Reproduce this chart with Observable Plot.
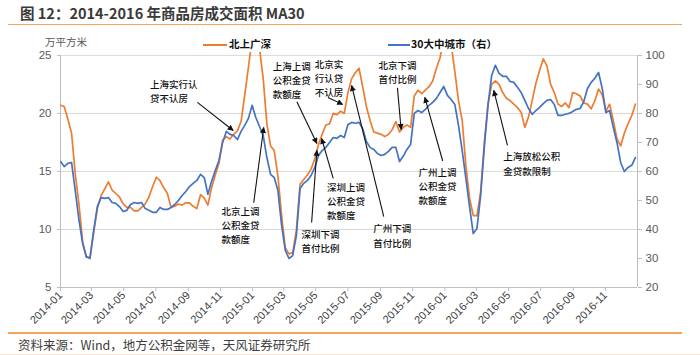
<!DOCTYPE html>
<html><head><meta charset="utf-8">
<script src="https://cdn.jsdelivr.net/npm/d3@7"></script>
<script src="https://cdn.jsdelivr.net/npm/@observablehq/plot@0.6"></script>
<style>
body{margin:0;width:700px;height:355px;position:relative;overflow:hidden;background:#fff;font-family:"Noto Sans CJK SC","Liberation Sans",sans-serif;}
.abs{position:absolute;white-space:nowrap;}
</style></head>
<body>
<div class="abs" style="left:20px;top:2px;font-size:14.5px;font-weight:bold;color:#3a3a3a;">图 12：2014-2016 年商品房成交面积 MA30</div>
<div class="abs" style="left:8px;top:23.5px;width:674px;height:1.5px;background:#F5A45D;"></div>
<div id="chart" class="abs" style="left:0;top:26px;"></div>
<div class="abs" style="left:45px;top:34px;font-size:10.5px;color:#595959;">万平方米</div>
<div class="abs" style="left:203px;top:43.5px;width:24px;height:2px;background:#ED7D31;"></div>
<div class="abs" style="left:229px;top:36px;font-size:10.5px;font-weight:bold;color:#111;">北上广深</div>
<div class="abs" style="left:388px;top:43.5px;width:22px;height:2px;background:#4472C4;"></div>
<div class="abs" style="left:411px;top:36px;font-size:10.5px;font-weight:bold;color:#111;">30大中城市（右）</div>
<div class="abs" style="left:8px;top:332px;width:674px;height:1.5px;background:#F5A45D;"></div>
<div class="abs" style="left:18px;top:335px;font-size:12.5px;color:#404040;">资料来源：Wind，地方公积金网等，天风证券研究所</div>
<div class="abs" style="left:0;top:353.5px;width:700px;height:1px;background:#FBE3CF;"></div>
<script>
// Weekly samples of the MA30 series starting 2014-01-01
const startDate = "2014-01-01";
const stepDays = 7;
// 北上广深 (万平方米, left axis)
const bsgs = [20.7,20.6,19.5,18.3,14.8,12.2,9.0,7.6,7.6,9.7,11.8,12.9,13.5,14.1,13.4,13.1,12.8,12.2,11.9,11.9,
11.6,11.6,11.9,12.2,12.8,13.7,14.5,14.2,13.6,13.1,11.9,12.0,12.2,12.1,12.3,12.3,12.0,11.8,13.0,12.7,
12.1,13.6,14.7,15.7,17.7,18.0,17.8,18.2,18.5,19.3,21.6,24.0,26.5,27.0,25.6,23.0,19.1,17.2,16.8,14.6,
11.2,8.4,7.9,8.0,9.9,13.9,14.3,14.7,15.2,16.1,17.3,18.2,19.0,19.1,20.0,19.9,20.2,20.0,21.8,23.0,
23.5,23.9,22.3,20.6,19.4,18.4,18.3,18.2,18.0,18.2,18.6,19.3,18.4,18.8,19.0,18.8,21.5,22.0,21.7,22.0,
22.3,22.8,23.9,24.8,26.5,27.0,26.0,23.6,21.1,19.4,15.5,12.7,11.2,11.2,13.2,17.5,20.8,22.5,22.8,22.5,
21.8,21.3,21.1,20.8,20.5,20.1,18.8,19.7,21.1,22.6,23.7,24.7,24.1,22.5,21.8,20.8,20.6,20.9,20.5,21.8,
21.7,21.5,20.9,20.8,20.4,21.1,22.1,21.6,20.2,20.8,19.4,17.8,17.2,18.3,19.1,19.8,20.8];
// 30大中城市 (right axis)
const city30 = [63.4,61.7,62.8,63.1,53.4,43.4,35.2,30.7,30.0,39.7,47.9,51.0,50.7,51.0,49.3,49.0,47.9,46.2,46.6,48.6,
49.3,49.0,49.3,47.2,46.6,45.9,45.9,47.6,46.9,46.9,47.6,48.6,50.0,51.7,53.1,54.8,55.9,56.9,59.0,57.9,
52.1,56.6,60.3,63.8,70.0,73.8,72.8,72.4,71.0,73.8,75.9,78.3,82.8,78.6,75.5,72.4,64.8,59.0,57.9,53.4,
41.4,32.8,30.0,31.0,37.9,54.1,55.9,56.9,58.6,61.4,65.5,67.2,68.3,70.0,71.7,71.4,72.4,71.7,76.2,76.9,
76.6,76.9,74.8,70.3,68.3,67.6,66.2,65.5,65.9,66.9,68.3,68.3,63.4,65.2,67.6,69.3,80.0,81.0,80.3,81.4,
82.8,83.8,85.2,87.2,89.3,86.2,84.8,83.1,75.9,67.2,57.6,47.9,38.6,40.3,51.7,68.3,82.8,93.1,96.6,93.8,
92.8,92.8,91.0,90.7,89.0,87.2,84.5,81.7,79.7,81.0,82.1,83.4,84.5,84.8,83.1,79.3,79.3,79.7,80.0,80.7,
81.4,81.7,84.1,88.6,90.7,92.1,94.1,88.6,80.3,81.0,75.2,70.0,63.1,60.0,61.4,62.1,64.8];
const xTicks = ["2014-01","2014-03","2014-05","2014-07","2014-09","2014-11","2015-01","2015-03","2015-05","2015-07","2015-09","2015-11","2016-01","2016-03","2016-05","2016-07","2016-09","2016-11"];
const leftTicks = [5,10,15,20,25];
const rightTicks = [20,30,40,50,60,70,80,90,100];
const noteText = ["上海实行认\n贷不认房","北京上调\n公积金贷\n款额度","上海上调\n公积金贷\n款额度","北京实\n行认贷\n不认房","深圳上调\n公积金贷\n款额度","深圳下调\n首付比例","广州下调\n首付比例","北京下调\n首付比例","广州上调\n公积金贷\n款额度","上海放松公积\n金贷款限制"];
const noteAt = [["2014-06-20",22.0],["2014-11-03",10.43],["2015-02-08",22.93],["2015-04-29",23.1],["2015-05-22",12.5],["2015-04-04",9.05],["2015-08-18",9.53],["2015-08-28",23.62],["2015-11-12",13.79],["2016-04-21",15.73]];
const arrowFrom = [["2014-09-18",20.95],["2015-01-03",12.3],["2015-03-26",21.0],["2015-05-24",21.38],["2015-06-03",14.4],["2015-04-23",10.6],["2015-09-07",11.1],["2015-10-03",22.2],["2015-12-28",15.9],["2016-04-29",17.24]];
const arrowTo = [["2014-11-25",18.53],["2015-01-22",18.79],["2015-05-03",17.41],["2015-06-21",20.78],["2015-05-12",17.84],["2015-05-03",16.81],["2015-07-08",22.41],["2015-10-10",18.62],["2015-11-24",21.38],["2016-04-03",21.98]];

const toLeft = r => (r - 20) / 4 + 5;
const t0 = new Date(startDate).getTime();
const dateAt = i => new Date(t0 + i * stepDays * 864e5);
const orangeData = bsgs.map((v, i) => ({date: dateAt(i), v}));
const blueData = city30.map((r, i) => ({date: dateAt(i), v: toLeft(r)}));
const notes = noteText.map((t, i) => ({
  text: t, tx: new Date(noteAt[i][0]), ty: noteAt[i][1],
  x1: new Date(arrowFrom[i][0]), y1: arrowFrom[i][1],
  x2: new Date(arrowTo[i][0]), y2: arrowTo[i][1]
}));
const xStart = new Date("2014-01-01"), xEnd = new Date("2017-01-01");

const chart = Plot.plot({
  width: 700, height: 304,
  marginTop: 26, marginBottom: 43, marginLeft: 60, marginRight: 63,
  x: {type: "utc", domain: [xStart, xEnd]},
  y: {domain: [5, 25.25]},
  style: {fontFamily: "'Liberation Sans', Arial, sans-serif", fontSize: "11.5px", color: "#595959", background: "transparent", overflow: "visible"},
  marks: [
    Plot.gridY([10,15,20,25], {stroke: "#d9d9d9", strokeOpacity: 1}),
    Plot.ruleY([5], {stroke: "#bfbfbf"}),
    Plot.ruleX([xStart], {y1: 5, y2: 25, stroke: "#bfbfbf"}),
    Plot.ruleX([xEnd], {y1: 5, y2: 25, stroke: "#bfbfbf"}),
    Plot.axisY(leftTicks, {anchor: "left", tickSize: 3, tickPadding: 6, stroke: "#bfbfbf", fill: "#595959", label: null}),
    Plot.axisY(rightTicks.map(toLeft), {anchor: "right", tickSize: 4, tickPadding: 4, stroke: "#bfbfbf", fill: "#595959", tickFormat: v => String(Math.round((v - 5) * 4 + 20)), label: null}),
    Plot.axisX(xTicks.map(s => new Date(s + "-01")), {tickSize: 4, tickPadding: 2, tickRotate: -45, stroke: "#bfbfbf", fill: "#404040", fontSize: 11, tickFormat: d3.utcFormat("%Y-%m"), label: null}),
    Plot.line(orangeData, {x: "date", y: "v", stroke: "#ED7D31", strokeWidth: 1.7, clip: true}),
    Plot.line(blueData, {x: "date", y: "v", stroke: "#4472C4", strokeWidth: 1.7, clip: true}),
    Plot.link(notes, {x1: "x1", y1: "y1", x2: "x2", y2: "y2", stroke: "#111", strokeWidth: 1.1}),
    Plot.text(notes, {x: "tx", y: "ty", text: "text", textAnchor: "start", lineHeight: 1.5, fontSize: 9.5, fill: "#111", fontFamily: "'Noto Sans CJK SC'", fontWeight: 500})
  ]
});
const svg = d3.select(chart);
const defs = svg.insert("defs", ":first-child");
defs.append("marker").attr("id", "ah").attr("viewBox", "0 0 10 10").attr("refX", 9).attr("refY", 5)
  .attr("markerWidth", 7).attr("markerHeight", 6).attr("markerUnits", "userSpaceOnUse").attr("orient", "auto")
  .append("path").attr("d", "M0,0L10,5L0,10z").attr("fill", "#111");
svg.selectAll("g[aria-label=link] path").attr("marker-end", "url(#ah)");
document.getElementById("chart").appendChild(chart);
</script>
</body></html>
